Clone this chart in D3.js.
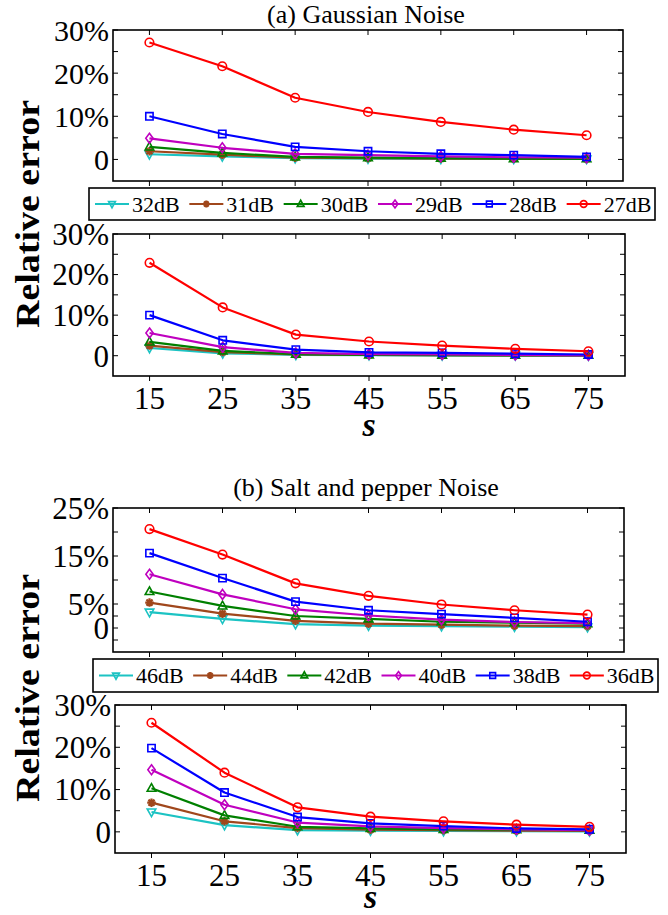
<!DOCTYPE html>
<html>
<head>
<meta charset="utf-8">
<script src="https://cdn.jsdelivr.net/npm/d3@7"></script>
<style>
  html, body { margin: 0; padding: 0; background: #fff; }
  svg { display: block; }
  text { font-family: "Liberation Serif", "Times New Roman", serif; fill: #000; }
</style>
</head>
<body>
<svg id="fig" width="668" height="915"></svg>
<script>
// Patch size s on the x axis
const sValues = [15, 25, 35, 45, 55, 65, 75];

// (a) Gaussian noise levels, legend order
const gaussLevels = ["32dB", "31dB", "30dB", "29dB", "28dB", "27dB"];
// relative error (%) — upper panel
const gaussUpper32 = [1.2, 0.7, 0.3, 0.2, 0.15, 0.1, 0.1];
const gaussUpper31 = [1.9, 1.1, 0.4, 0.3, 0.2, 0.15, 0.1];
const gaussUpper30 = [2.9, 1.5, 0.6, 0.4, 0.3, 0.2, 0.15];
const gaussUpper29 = [4.9, 2.7, 1.3, 1.0, 0.7, 0.5, 0.4];
const gaussUpper28 = [10.0, 5.9, 2.9, 1.9, 1.3, 1.0, 0.6];
const gaussUpper27 = [27.1, 21.6, 14.3, 11.0, 8.7, 6.9, 5.6];
// relative error (%) — lower panel
const gaussLower32 = [1.9, 0.6, 0.2, 0.15, 0.1, 0.1, 0.05];
const gaussLower31 = [2.5, 0.9, 0.3, 0.2, 0.15, 0.1, 0.1];
const gaussLower30 = [3.4, 1.2, 0.4, 0.2, 0.15, 0.1, 0.1];
const gaussLower29 = [5.6, 2.1, 0.7, 0.4, 0.3, 0.2, 0.1];
const gaussLower28 = [10.0, 3.8, 1.5, 0.8, 0.7, 0.5, 0.3];
const gaussLower27 = [22.9, 11.9, 5.2, 3.5, 2.5, 1.7, 1.1];

// (b) Salt and pepper noise levels, legend order
const saltLevels = ["46dB", "44dB", "42dB", "40dB", "38dB", "36dB"];
// relative error (%) — upper panel
const saltUpper46 = [3.3, 1.9, 0.8, 0.5, 0.4, 0.3, 0.2];
const saltUpper44 = [5.3, 3.0, 1.5, 0.9, 0.7, 0.5, 0.4];
const saltUpper42 = [7.6, 4.6, 2.5, 1.9, 1.3, 1.1, 0.9];
const saltUpper40 = [11.2, 7.0, 3.9, 2.6, 1.75, 1.25, 1.0];
const saltUpper38 = [15.6, 10.4, 5.5, 3.7, 2.9, 2.1, 1.3];
const saltUpper36 = [20.6, 15.3, 9.3, 6.7, 4.9, 3.7, 2.8];
// relative error (%) — lower panel
const saltLower46 = [4.7, 1.6, 0.4, 0.3, 0.2, 0.15, 0.1];
const saltLower44 = [6.9, 2.5, 0.9, 0.5, 0.4, 0.3, 0.2];
const saltLower42 = [10.3, 3.9, 1.2, 0.8, 0.6, 0.5, 0.4];
const saltLower40 = [14.7, 6.4, 2.2, 1.3, 0.9, 0.6, 0.4];
const saltLower38 = [19.8, 9.3, 3.5, 2.0, 1.35, 0.8, 0.6];
const saltLower36 = [25.8, 14.0, 5.8, 3.6, 2.5, 1.7, 1.2];

// y tick values per panel style
const yTicksA = [0, 10, 20, 30];
const yMinorA = [5, 15, 25];
const yTicksB = [0, 5, 15, 25];
const yMinorB = [-2.5, 2.5, 10, 20];

const seriesColors = ["#1CC3C3", "#A0471C", "#008000", "#BF00BF", "#0000FF", "#FF0000"];
const seriesMarkers = ["triDown", "asterisk", "triUp", "diamond", "square", "circle"];

const svg = d3.select("#fig");

function markerPath(kind, r) {
  const p = d3.path();
  switch (kind) {
    case "circle":
      p.arc(0, 0, r, 0, 2 * Math.PI); break;
    case "square":
      p.rect(-r * 0.85, -r * 0.85, r * 1.7, r * 1.7); break;
    case "diamond":
      p.moveTo(0, -r * 1.15); p.lineTo(r * 0.85, 0); p.lineTo(0, r * 1.15); p.lineTo(-r * 0.85, 0); p.closePath(); break;
    case "triUp":
      p.moveTo(0, -r * 1.1); p.lineTo(r * 1.0, r * 0.7); p.lineTo(-r * 1.0, r * 0.7); p.closePath(); break;
    case "triDown":
      p.moveTo(0, r * 1.1); p.lineTo(r * 1.0, -r * 0.7); p.lineTo(-r * 1.0, -r * 0.7); p.closePath(); break;
    case "asterisk":
      for (let k = 0; k < 4; k++) {
        const a = k * Math.PI / 4;
        p.moveTo(-r * Math.cos(a), -r * Math.sin(a));
        p.lineTo(r * Math.cos(a), r * Math.sin(a));
      }
      break;
  }
  return p.toString();
}

function drawMarker(g, kind, color, x, y, r) {
  g.append("path")
    .attr("transform", `translate(${x},${y})`)
    .attr("d", markerPath(kind, r))
    .attr("fill", kind === "asterisk" ? color : "none")
    .attr("stroke", color)
    .attr("stroke-width", kind === "asterisk" ? 2.2 : 1.6);
  if (kind === "asterisk") {
    g.append("circle").attr("cx", x).attr("cy", y).attr("r", r * 0.45).attr("fill", color);
  }
}

function panel(cfg) {
  const { x0, x1, y0, y1, yDomain, yTicks, yMinor, yFmt, series, showX, fontSize, sOffset } = cfg;
  const g = svg.append("g");
  const x = d3.scaleLinear().domain([10, 80]).range([x0, x1]);
  const y = d3.scaleLinear().domain(yDomain).range([y1, y0]);

  // ticks: top/left/right point inward, bottom points outward
  const tick = g.append("g").attr("stroke", "#000").attr("stroke-width", 1);
  sValues.forEach(v => {
    tick.append("line").attr("x1", x(v)).attr("x2", x(v)).attr("y1", y0).attr("y2", y0 + 5);
    tick.append("line").attr("x1", x(v)).attr("x2", x(v)).attr("y1", y1).attr("y2", y1 + 5);
  });
  yTicks.concat(yMinor).forEach(v => {
    tick.append("line").attr("x1", x0).attr("x2", x0 + 5).attr("y1", y(v)).attr("y2", y(v));
    tick.append("line").attr("x1", x1).attr("x2", x1 - 5).attr("y1", y(v)).attr("y2", y(v));
  });

  const line = d3.line().x((d, i) => x(sValues[i])).y(d => y(d));
  series.forEach((vals, k) => {
    g.append("path").attr("d", line(vals)).attr("fill", "none")
      .attr("stroke", seriesColors[k]).attr("stroke-width", 2.2)
      .attr("stroke-linejoin", "round");
    vals.forEach((v, i) => drawMarker(g, seriesMarkers[k], seriesColors[k], x(sValues[i]), y(v), 4.3));
  });

  g.append("rect").attr("x", x0).attr("y", y0).attr("width", x1 - x0).attr("height", y1 - y0)
    .attr("fill", "none").attr("stroke", "#000").attr("stroke-width", 1.6);

  g.selectAll("text.yt").data(yTicks).join("text")
    .attr("x", x0 - 4).attr("y", d => y(d)).attr("dy", "0.35em")
    .attr("text-anchor", "end").attr("font-size", fontSize)
    .text(yFmt);

  if (showX) {
    g.selectAll("text.xt").data(sValues).join("text")
      .attr("x", d => x(d)).attr("y", y1 + 33)
      .attr("text-anchor", "middle").attr("font-size", 31)
      .text(d => d);
    g.append("text").attr("x", (x(10) + x(80)) / 2).attr("y", y1 + sOffset)
      .attr("text-anchor", "middle").attr("font-size", 34)
      .attr("font-weight", "bold").attr("font-style", "italic").text("s");
  }
}

function legend(x0, x1, y0, y1, labels) {
  const g = svg.append("g");
  g.append("rect").attr("x", x0).attr("y", y0).attr("width", x1 - x0).attr("height", y1 - y0)
    .attr("fill", "#fff").attr("stroke", "#000").attr("stroke-width", 1.6);
  const step = (x1 - x0) / labels.length;
  const cy = (y0 + y1) / 2;
  labels.forEach((lab, k) => {
    const lx = x0 + 6 + k * step;
    g.append("line").attr("x1", lx).attr("x2", lx + 34).attr("y1", cy).attr("y2", cy)
      .attr("stroke", seriesColors[k]).attr("stroke-width", 2.2);
    drawMarker(g, seriesMarkers[k], seriesColors[k], lx + 17, cy, 3.4);
    g.append("text").attr("x", lx + 37).attr("y", cy).attr("dy", "0.35em")
      .attr("font-size", 22).text(lab);
  });
}

const pctFmt = d => d === 0 ? "0" : d + "%";

// (a) Gaussian noise
svg.append("text").attr("x", 366).attr("y", 23).attr("text-anchor", "middle")
  .attr("font-size", 26).text("(a) Gaussian Noise");
panel({ x0: 113, x1: 623, y0: 30, y1: 181, yDomain: [-5, 30], yTicks: yTicksA, yMinor: yMinorA,
  yFmt: pctFmt, showX: false, fontSize: 30,
  series: [gaussUpper32, gaussUpper31, gaussUpper30, gaussUpper29, gaussUpper28, gaussUpper27] });
legend(89, 655, 188, 220, gaussLevels);
panel({ x0: 113, x1: 625, y0: 234, y1: 376, yDomain: [-5, 30], yTicks: yTicksA, yMinor: yMinorA,
  yFmt: pctFmt, showX: true, fontSize: 31, sOffset: 60,
  series: [gaussLower32, gaussLower31, gaussLower30, gaussLower29, gaussLower28, gaussLower27] });

// (b) Salt and pepper noise
svg.append("text").attr("x", 366).attr("y", 496).attr("text-anchor", "middle")
  .attr("font-size", 26).text("(b) Salt and pepper Noise");
panel({ x0: 113, x1: 624, y0: 508, y1: 652, yDomain: [-5, 25], yTicks: yTicksB, yMinor: yMinorB,
  yFmt: pctFmt, showX: false, fontSize: 31,
  series: [saltUpper46, saltUpper44, saltUpper42, saltUpper40, saltUpper38, saltUpper36] });
legend(93, 658, 659, 692, saltLevels);
panel({ x0: 115, x1: 626, y0: 705, y1: 853, yDomain: [-5, 30], yTicks: yTicksA, yMinor: yMinorA,
  yFmt: pctFmt, showX: true, fontSize: 31, sOffset: 55,
  series: [saltLower46, saltLower44, saltLower42, saltLower40, saltLower38, saltLower36] });

// shared y-axis titles
[[214], [688]].forEach(([cy]) => {
  svg.append("text")
    .attr("transform", `translate(39,${cy}) rotate(-90)`)
    .attr("text-anchor", "middle").attr("font-size", 34).attr("font-weight", "bold")
    .attr("textLength", 228).attr("lengthAdjust", "spacingAndGlyphs")
    .text("Relative error");
});
</script>
</body>
</html>
